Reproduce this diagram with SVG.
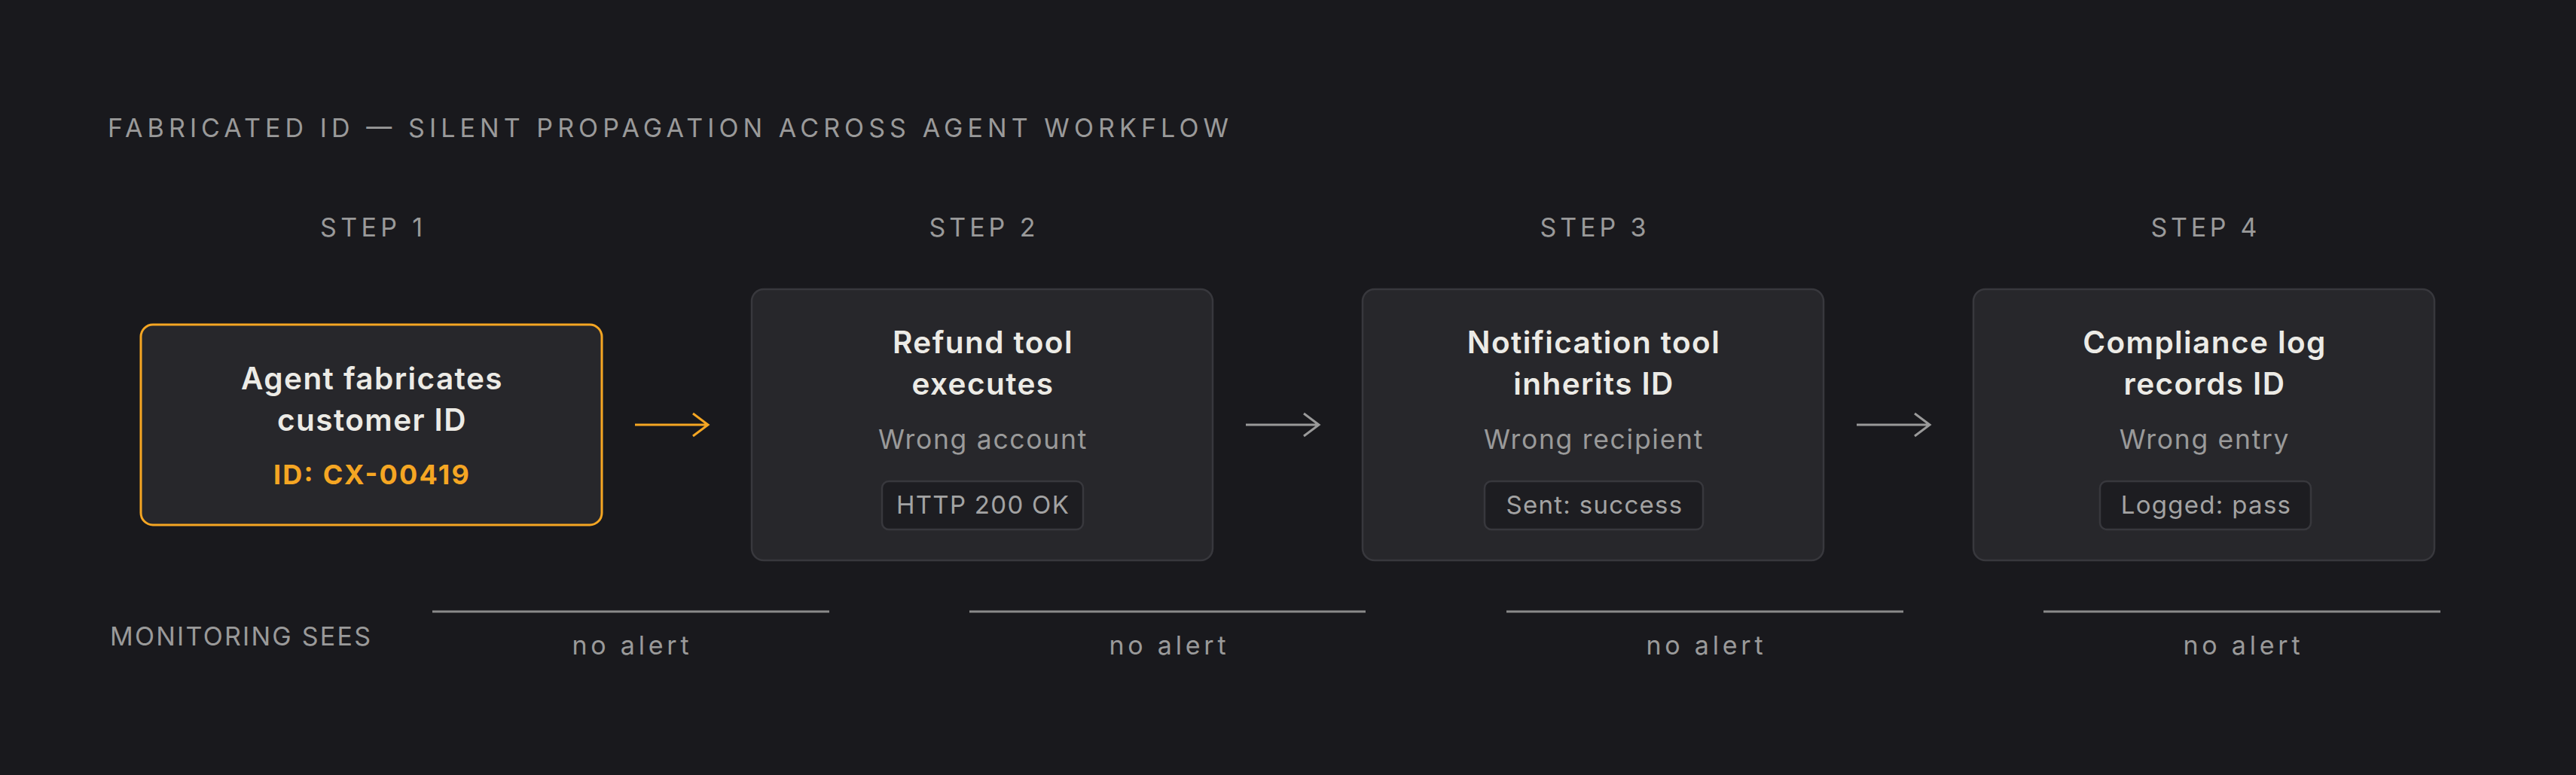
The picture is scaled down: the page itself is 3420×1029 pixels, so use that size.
<svg xmlns="http://www.w3.org/2000/svg" width="3420" height="1029" viewBox="0 0 3420 1029">
<defs>
<style>
.bg{fill:#19191d}
.box{fill:#27272b;stroke:#38383d;stroke-width:2.5}
.box1{fill:#27272b;stroke:#f5a623;stroke-width:3}
.pill{fill:#1d1d21;stroke:#38383d;stroke-width:2.5}
.t{font-family:Inter,"Liberation Sans",sans-serif}
.cap{font-size:34px;fill:#9a9a9a;font-weight:400}
.head{font-size:40.5px;fill:#ecebe6;font-weight:600;text-anchor:middle;letter-spacing:1.4px}
.sub{font-size:35.5px;fill:#9a9a9a;font-weight:400;text-anchor:middle;letter-spacing:1.7px}
.pt{font-size:33px;fill:#a3a3a3;font-weight:400;text-anchor:middle;letter-spacing:1.3px}
.id{font-size:36px;fill:#f5a623;font-weight:700;text-anchor:middle}
.na{font-size:34px;fill:#9a9a9a;text-anchor:middle}
.conn{fill:none;stroke:#9a9a9a;stroke-width:3;stroke-linecap:butt}
.conn.o{stroke:#f5a623}
.rule{stroke:#8a8a8a;stroke-width:3}
</style>
</defs>
<rect class="bg" x="0" y="0" width="3420" height="1029"/>
<g id="title">
<text class="t cap" x="143" y="182" textLength="1488" lengthAdjust="spacing">FABRICATED ID — SILENT PROPAGATION ACROSS AGENT WORKFLOW</text>
</g>
<g id="steps">
<text class="t cap" x="493" y="314" text-anchor="middle" textLength="136" lengthAdjust="spacing">STEP 1</text>
<text class="t cap" x="1304" y="314" text-anchor="middle" textLength="141" lengthAdjust="spacing">STEP 2</text>
<text class="t cap" x="2115" y="314" text-anchor="middle" textLength="141" lengthAdjust="spacing">STEP 3</text>
<text class="t cap" x="2926" y="314" text-anchor="middle" textLength="141" lengthAdjust="spacing">STEP 4</text>
</g>
<g id="node1">
<rect class="box1" x="187" y="431" width="612" height="266" rx="16"/>
<text class="t head" x="494" y="517">Agent fabricates</text>
<text class="t head" x="494" y="572">customer ID</text>
<text class="t id" x="493" y="643" textLength="260" lengthAdjust="spacing">ID: CX-00419</text>
</g>
<g id="node2">
<rect class="box" x="998" y="384" width="612" height="360" rx="16"/>
<text class="t head" x="1305" y="469">Refund tool</text>
<text class="t head" x="1305" y="524">executes</text>
<text class="t sub" x="1305" y="596">Wrong account</text>
<rect class="pill" x="1171" y="639" width="267" height="64" rx="9"/>
<text class="t pt" x="1305" y="682">HTTP 200 OK</text>
</g>
<g id="node3">
<rect class="box" x="1809" y="384" width="612" height="360" rx="16"/>
<text class="t head" x="2116" y="469">Notification tool</text>
<text class="t head" x="2116" y="524">inherits ID</text>
<text class="t sub" x="2116" y="596">Wrong recipient</text>
<rect class="pill" x="1971" y="639" width="290" height="64" rx="9"/>
<text class="t pt" x="2117" y="682">Sent: success</text>
</g>
<g id="node4">
<rect class="box" x="2620" y="384" width="612" height="360" rx="16"/>
<text class="t head" x="2927" y="469">Compliance log</text>
<text class="t head" x="2927" y="524">records ID</text>
<text class="t sub" x="2927" y="596">Wrong entry</text>
<rect class="pill" x="2788" y="639" width="280" height="64" rx="9"/>
<text class="t pt" x="2929" y="682">Logged: pass</text>
</g>
<g id="connectors">
<path class="conn o" d="M843 564 H940 M920 549 L940 564 L920 579"/>
<path class="conn" d="M1654 564 H1751 M1731 549 L1751 564 L1731 579"/>
<path class="conn" d="M2465 564 H2562 M2542 549 L2562 564 L2542 579"/>
</g>
<g id="monitoring">
<text class="t cap" x="146" y="857" textLength="346" lengthAdjust="spacing">MONITORING SEES</text>
<line class="rule" x1="574" y1="812" x2="1101" y2="812"/>
<line class="rule" x1="1287" y1="812" x2="1813" y2="812"/>
<line class="rule" x1="2000" y1="812" x2="2527" y2="812"/>
<line class="rule" x1="2713" y1="812" x2="3240" y2="812"/>
<text class="t na" x="837" y="869" textLength="155" lengthAdjust="spacing">no alert</text>
<text class="t na" x="1550" y="869" textLength="155" lengthAdjust="spacing">no alert</text>
<text class="t na" x="2263" y="869" textLength="155" lengthAdjust="spacing">no alert</text>
<text class="t na" x="2976" y="869" textLength="155" lengthAdjust="spacing">no alert</text>
</g>
</svg>
